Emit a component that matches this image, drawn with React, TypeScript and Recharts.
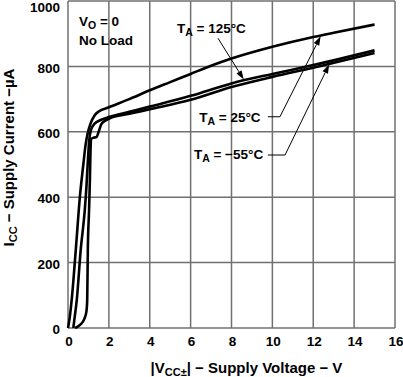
import React from "react";
import {
  LineChart,
  Line,
  XAxis,
  YAxis,
  CartesianGrid,
  ReferenceDot,
  ReferenceLine,
  Label,
} from "recharts";

// supply voltage (V) / supply current (uA) per temperature
const v25 = [0, 0.08, 0.18, 0.38, 0.58, 0.75, 0.86, 0.95, 1.1, 1.3, 1.5, 2, 3, 4, 5, 6, 7, 8, 10, 12, 13, 15];
const i25 = [0, 30, 86, 238, 400, 500, 560, 592, 625, 650, 662, 675, 700, 727, 752, 777, 802, 824, 860, 890, 903, 928];

const v125 = [0.26, 0.32, 0.43, 0.62, 0.82, 0.9, 0.98, 1.04, 1.12, 1.3, 1.6, 2, 3, 4, 6, 8, 10, 12, 15];
const i125 = [0, 30, 86, 238, 360, 430, 520, 575, 605, 625, 636, 645, 661, 677, 710, 748, 777, 804, 849];

const vM55 = [0.35, 0.6, 0.8, 0.9, 0.94, 0.97, 1.03, 1.07, 1.1, 1.13, 1.25, 1.4, 1.5, 1.62, 1.8, 2, 3, 4, 6, 8, 10, 12, 15];
const iM55 = [0, 10, 28, 50, 86, 238, 360, 450, 540, 578, 582, 584, 600, 622, 633, 640, 655, 669, 698, 737, 768, 796, 841];

const xTicks = [0, 2, 4, 6, 8, 10, 12, 14, 16];
const yTicks = [0, 200, 400, 600, 800, 1000];

const zip = (v: number[], i: number[]) => v.map((x, k) => ({ v: x, i: i[k] }));

const FONT = "'Liberation Sans', Arial, sans-serif";

const XTick = ({ x, y, payload }: any) => (
  <text x={x + 1} y={y} dy="0.71em" textAnchor="middle" fontFamily={FONT} fontWeight="bold" fontSize={13.5} fill="#000">
    {payload.value}
  </text>
);

const YTick = ({ x, y, payload }: any) => (
  <text
    x={x}
    y={y + (payload.value === 1000 ? 6 : 1.5)}
    dy="0.355em"
    textAnchor="end"
    fontFamily={FONT}
    fontWeight="bold"
    fontSize={13.5}
    fill="#000"
  >
    {payload.value}
  </text>
);

const XTitle = ({ viewBox }: any) => {
  const { x, y, width } = viewBox;
  return (
    <text x={x + width / 2 + 15} y={y + 45} textAnchor="middle" fontFamily={FONT} fontWeight="bold" fontSize={15} fill="#000">
      |V
      <tspan fontSize={11} dy={3}>CC±</tspan>
      <tspan dy={-3}>| − Supply Voltage − V</tspan>
    </text>
  );
};

const YTitle = ({ viewBox }: any) => {
  const { y, height } = viewBox;
  const cy = y + height / 2 - 7;
  return (
    <text
      x={14}
      y={cy}
      transform={`rotate(-90, 14, ${cy})`}
      textAnchor="middle"
      fontFamily={FONT}
      fontWeight="bold"
      fontSize={15}
      fill="#000"
    >
      I
      <tspan fontSize={11} dy={3}>CC</tspan>
      <tspan dy={-3}> − Supply Current −µA</tspan>
    </text>
  );
};

const Note = (sub: string | null, main: string, rest: string) => (props: any) => (
  <text x={props.cx} y={props.cy} fontFamily={FONT} fontWeight="bold" fontSize={13.5} fill="#000">
    {main}
    {sub && (
      <>
        <tspan fontSize={10.5} dy={3}>{sub}</tspan>
        <tspan dy={-3}>{rest}</tspan>
      </>
    )}
  </text>
);

const Arrow = (props: any) => {
  const { x1, y1, x2, y2 } = props;
  const a = Math.atan2(y2 - y1, x2 - x1);
  const L = 9;
  const W = 3;
  const bx = x2 - L * Math.cos(a);
  const by = y2 - L * Math.sin(a);
  const px = -Math.sin(a) * W;
  const py = Math.cos(a) * W;
  return (
    <g>
      <line x1={x1} y1={y1} x2={bx} y2={by} stroke="#000" strokeWidth={1} />
      <polygon points={`${x2},${y2} ${bx + px},${by + py} ${bx - px},${by - py}`} fill="#000" />
    </g>
  );
};

const Seg = (props: any) => (
  <line x1={props.x1} y1={props.y1} x2={props.x2} y2={props.y2} stroke="#000" strokeWidth={1} />
);

export default function App() {
  return (
    <div style={{ position: "absolute", left: 0, top: 0, background: "#fff" }}>
      <LineChart width={403} height={377} margin={{ top: 1, right: 8, left: 0, bottom: 0 }}>
        <CartesianGrid stroke="#707070" strokeWidth={1.5} />
        <XAxis
          type="number"
          dataKey="v"
          domain={[0, 16]}
          ticks={xTicks}
          height={49}
          tickSize={0}
          tickMargin={8}
          tickLine={false}
          axisLine={false}
          tick={<XTick />}
          interval={0}
        >
          <Label content={<XTitle />} />
        </XAxis>
        <YAxis
          type="number"
          domain={[0, 1000]}
          ticks={yTicks}
          width={68}
          tickSize={0}
          tickMargin={8}
          tickLine={false}
          axisLine={false}
          tick={<YTick />}
          interval={0}
        >
          <Label content={<YTitle />} />
        </YAxis>

        <Line data={zip(v25, i25)} dataKey="i" type="monotone" stroke="#000" strokeWidth={2.6} dot={false} isAnimationActive={false} />
        <Line data={zip(v125, i125)} dataKey="i" type="monotone" stroke="#000" strokeWidth={2.6} dot={false} isAnimationActive={false} />
        <Line data={zip(vM55, iM55)} dataKey="i" type="monotone" stroke="#000" strokeWidth={2.6} dot={false} isAnimationActive={false} />

        <ReferenceDot x={0.54} y={925} r={0} shape={Note("O", "V", " = 0")} />
        <ReferenceDot x={0.54} y={864} r={0} shape={Note(null, "No Load", "")} />
        <ReferenceDot x={5.33} y={901} r={0} shape={Note("A", "T", " = 125°C")} />
        <ReferenceDot x={6.42} y={630} r={0} shape={Note("A", "T", " = 25°C")} />
        <ReferenceDot x={6.16} y={517} r={0} shape={Note("A", "T", " = −55°C")} />

        <ReferenceLine segment={[{ x: 7.34, y: 886 }, { x: 8.6, y: 760 }]} shape={Arrow} />
        <ReferenceLine segment={[{ x: 9.78, y: 646 }, { x: 10.37, y: 646 }]} shape={Seg} />
        <ReferenceLine segment={[{ x: 10.37, y: 646 }, { x: 12.36, y: 892 }]} shape={Arrow} />
        <ReferenceLine segment={[{ x: 9.78, y: 529 }, { x: 10.62, y: 529 }]} shape={Seg} />
        <ReferenceLine segment={[{ x: 10.62, y: 529 }, { x: 12.78, y: 806 }]} shape={Arrow} />
      </LineChart>
    </div>
  );
}
